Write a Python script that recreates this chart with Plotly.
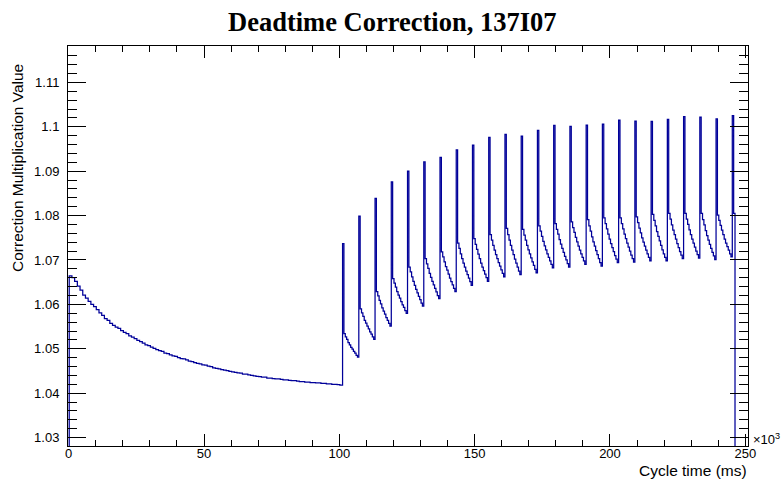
import plotly.graph_objects as go

# ---------------- data ----------------
title_text = "Deadtime Correction, 137I07"
x_title = "Cycle time (ms)"
y_title = "Correction Multiplication Value"

x_tick_values = [0, 50, 100, 150, 200, 250]
x_tick_labels = ["0", "50", "100", "150", "200", "250"]
y_tick_values = [1.03, 1.04, 1.05, 1.06, 1.07, 1.08, 1.09, 1.10, 1.11]
y_tick_labels = ["1.03", "1.04", "1.05", "1.06", "1.07", "1.08", "1.09", "1.1", "1.11"]

# beam-on decay region: 1 ms bins starting at 0.2 ms
baseline_start_ms = 0.2
baseline_bin_ms = 1.0
baseline_values = [
    1.0664, 1.0660, 1.0652, 1.0641, 1.0632, 1.0621, 1.0614, 1.0607, 1.0600, 1.0595,
    1.0588, 1.0581, 1.0575, 1.0568, 1.0564, 1.0557, 1.0553, 1.0549, 1.0546, 1.0541,
    1.0537, 1.0534, 1.0529, 1.0526, 1.0523, 1.0519, 1.0516, 1.0513, 1.0509, 1.0507,
    1.0504, 1.0501, 1.0498, 1.0496, 1.0494, 1.0490, 1.0489, 1.0486, 1.0484, 1.0483,
    1.0480, 1.0478, 1.0477, 1.0475, 1.0472, 1.0471, 1.0469, 1.0467, 1.0466, 1.0464,
    1.0463, 1.0461, 1.0460, 1.0457, 1.0456, 1.0455, 1.0453, 1.0452, 1.0451, 1.0449,
    1.0448, 1.0447, 1.0446, 1.0445, 1.0443, 1.0443, 1.0441, 1.0440, 1.0439, 1.0438,
    1.0437, 1.0436, 1.0436, 1.0434, 1.0434, 1.0433, 1.0432, 1.0432, 1.0431, 1.0430,
    1.0430, 1.0429, 1.0428, 1.0428, 1.0427, 1.0426, 1.0426, 1.0425, 1.0425, 1.0424,
    1.0424, 1.0423, 1.0423, 1.0422, 1.0422, 1.0421, 1.0421, 1.0420, 1.0420, 1.0419,
    1.0418,
]

# pulsed region: each cycle = one spike bin + decay bins (0.5 ms bins)
cycle_bin_ms = 0.5
spike_peaks = [
    1.0737, 1.0799, 1.0839, 1.0876, 1.0900, 1.0921, 1.0931, 1.0948, 1.0959, 1.0976,
    1.0983, 1.0979, 1.0992, 1.1003, 1.1001, 1.1004, 1.1006, 1.1015, 1.1013, 1.1012,
    1.1017, 1.1023, 1.1022, 1.1018, 1.1025,
]
cycle_decays = [
    [1.0534, 1.0527, 1.0521, 1.0514, 1.0509, 1.0503, 1.0499, 1.0494, 1.0490, 1.0485, 1.0481],
    [1.0590, 1.0581, 1.0573, 1.0564, 1.0558, 1.0551, 1.0545, 1.0538, 1.0533, 1.0527, 1.0521],
    [1.0629, 1.0619, 1.0609, 1.0601, 1.0592, 1.0585, 1.0578, 1.0570, 1.0564, 1.0557, 1.0551],
    [1.0658, 1.0648, 1.0639, 1.0629, 1.0621, 1.0614, 1.0606, 1.0599, 1.0593, 1.0586, 1.0580],
    [1.0684, 1.0673, 1.0662, 1.0652, 1.0643, 1.0634, 1.0626, 1.0618, 1.0611, 1.0603, 1.0596],
    [1.0703, 1.0691, 1.0681, 1.0670, 1.0661, 1.0652, 1.0644, 1.0636, 1.0628, 1.0620, 1.0613],
    [1.0718, 1.0707, 1.0696, 1.0685, 1.0677, 1.0668, 1.0659, 1.0651, 1.0644, 1.0636, 1.0629],
    [1.0738, 1.0726, 1.0714, 1.0703, 1.0693, 1.0684, 1.0675, 1.0667, 1.0659, 1.0651, 1.0643],
    [1.0748, 1.0735, 1.0724, 1.0713, 1.0703, 1.0693, 1.0684, 1.0676, 1.0668, 1.0660, 1.0652],
    [1.0757, 1.0745, 1.0733, 1.0722, 1.0712, 1.0703, 1.0694, 1.0686, 1.0678, 1.0670, 1.0662],
    [1.0771, 1.0757, 1.0745, 1.0733, 1.0722, 1.0712, 1.0702, 1.0693, 1.0684, 1.0675, 1.0667],
    [1.0769, 1.0756, 1.0745, 1.0733, 1.0723, 1.0714, 1.0705, 1.0696, 1.0688, 1.0679, 1.0671],
    [1.0777, 1.0765, 1.0753, 1.0742, 1.0732, 1.0723, 1.0714, 1.0706, 1.0698, 1.0690, 1.0682],
    [1.0782, 1.0769, 1.0758, 1.0746, 1.0736, 1.0726, 1.0717, 1.0708, 1.0700, 1.0692, 1.0684],
    [1.0786, 1.0773, 1.0762, 1.0751, 1.0741, 1.0731, 1.0722, 1.0714, 1.0706, 1.0698, 1.0690],
    [1.0791, 1.0777, 1.0765, 1.0752, 1.0741, 1.0731, 1.0721, 1.0712, 1.0703, 1.0694, 1.0686],
    [1.0795, 1.0782, 1.0770, 1.0758, 1.0747, 1.0737, 1.0728, 1.0719, 1.0710, 1.0702, 1.0694],
    [1.0795, 1.0782, 1.0770, 1.0758, 1.0748, 1.0738, 1.0729, 1.0720, 1.0711, 1.0703, 1.0695],
    [1.0797, 1.0784, 1.0772, 1.0761, 1.0750, 1.0740, 1.0731, 1.0722, 1.0714, 1.0706, 1.0698],
    [1.0803, 1.0789, 1.0777, 1.0764, 1.0753, 1.0743, 1.0733, 1.0723, 1.0714, 1.0706, 1.0698],
    [1.0805, 1.0792, 1.0779, 1.0767, 1.0757, 1.0747, 1.0737, 1.0728, 1.0719, 1.0711, 1.0703],
    [1.0805, 1.0792, 1.0780, 1.0768, 1.0757, 1.0747, 1.0738, 1.0729, 1.0720, 1.0712, 1.0704],
    [1.0805, 1.0791, 1.0779, 1.0766, 1.0755, 1.0745, 1.0735, 1.0726, 1.0717, 1.0709, 1.0701],
    [1.0801, 1.0789, 1.0778, 1.0767, 1.0757, 1.0747, 1.0738, 1.0730, 1.0722, 1.0714, 1.0707],
    [1.0805],
]
empty_value = 0.0
x_axis_max = 251.0

# ---------------- build histogram outline (step line) ----------------
xs = [baseline_start_ms]
ys = [empty_value]
t = baseline_start_ms
for v in baseline_values:
    xs.append(t)
    ys.append(v)
    t += baseline_bin_ms
for peak, decay in zip(spike_peaks, cycle_decays):
    xs.append(t)
    ys.append(peak)
    t += cycle_bin_ms
    for v in decay:
        xs.append(t)
        ys.append(v)
        t += cycle_bin_ms
xs.append(t)
ys.append(empty_value)
xs.append(x_axis_max)
ys.append(empty_value)

LINE_COLOR = "#000099"
SANS = "Liberation Sans, Arial, Helvetica, sans-serif"
AX_FONT = dict(family=SANS, size=13, color="black")
TITLE_FONT = dict(family=SANS, size=15.5, color="black")

fig = go.Figure()
fig.add_trace(go.Scatter(
    x=xs, y=ys, mode="lines",
    line=dict(color=LINE_COLOR, width=1.25, shape="hv"),
    showlegend=False, hoverinfo="skip",
))

W, H = 784, 487
ML, MR, MT, MB = 68, 36, 46, 41
PW, PH = W - ML - MR, H - MT - MB


def px_x(px):
    return (px - ML) / PW


def px_y(py):
    return (H - MB - py) / PH


fig.update_layout(
    width=W, height=H,
    margin=dict(l=ML, r=MR, t=MT, b=MB, pad=0),
    paper_bgcolor="white", plot_bgcolor="white",
    showlegend=False,
    xaxis=dict(
        range=[-0.25, x_axis_max],
        tickvals=x_tick_values, ticktext=x_tick_labels,
        ticks="inside", ticklen=12, tickwidth=1, tickcolor="black",
        minor=dict(dtick=10, tick0=0, ticks="inside", ticklen=6, tickwidth=1, tickcolor="black", showgrid=False),
        showline=True, linecolor="black", linewidth=1, mirror="ticks",
        showgrid=False, zeroline=False,
        tickfont=AX_FONT, ticklabelstandoff=-5,
    ),
    yaxis=dict(
        range=[1.0281, 1.1182],
        tickvals=y_tick_values, ticktext=y_tick_labels,
        ticks="inside", ticklen=18, tickwidth=1, tickcolor="black",
        minor=dict(dtick=0.002, tick0=1.03, ticks="inside", ticklen=9, tickwidth=1, tickcolor="black", showgrid=False),
        showline=True, linecolor="black", linewidth=1, mirror="ticks",
        showgrid=False, zeroline=False,
        tickfont=AX_FONT, ticklabelstandoff=5,
    ),
    annotations=[
        dict(text="<b>" + title_text + "</b>", xref="paper", yref="paper",
             x=px_x(391.5), y=px_y(22), xanchor="center", yanchor="middle",
             showarrow=False,
             font=dict(family="Liberation Serif, Times New Roman, serif", size=26.5, color="black")),
        dict(text=y_title, xref="paper", yref="paper", textangle=-90,
             x=px_x(17), y=px_y(62), xanchor="center", yanchor="top",
             showarrow=False, font=TITLE_FONT),
        dict(text=x_title, xref="paper", yref="paper",
             x=px_x(749), y=px_y(470), xanchor="right", yanchor="middle",
             showarrow=False, font=TITLE_FONT),
        dict(text="×10<sup>3</sup>", xref="paper", yref="paper",
             x=px_x(751), y=px_y(439), xanchor="left", yanchor="middle",
             showarrow=False, font=AX_FONT),
    ],
)

fig.write_html("out.html")
